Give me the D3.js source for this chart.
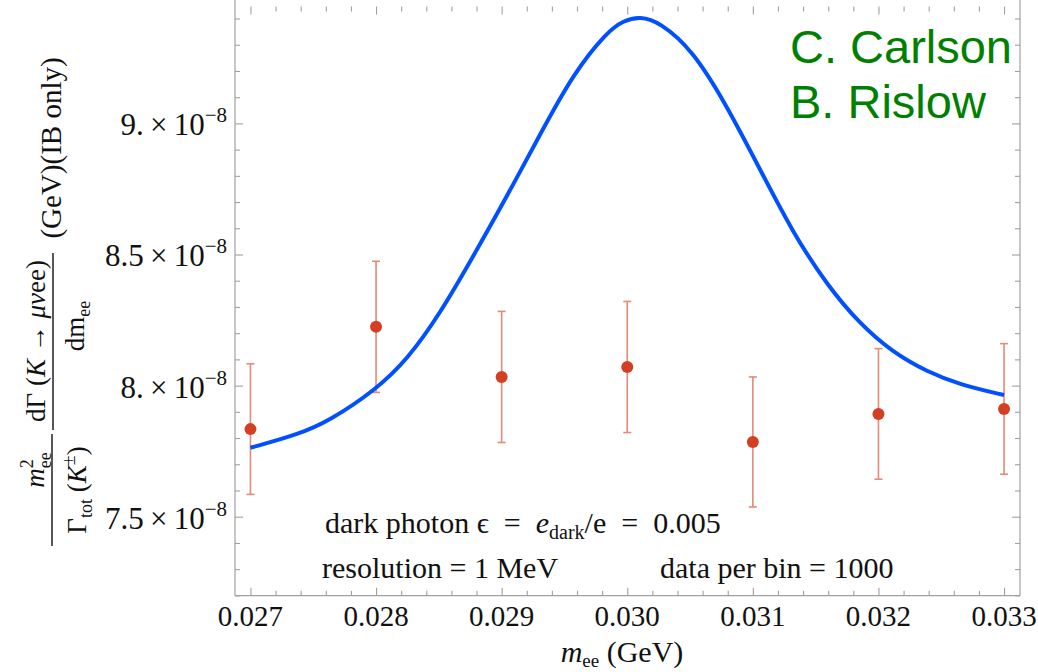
<!DOCTYPE html>
<html>
<head>
<meta charset="utf-8">
<script src="https://cdn.jsdelivr.net/npm/d3@7"></script>
<style>
  html, body { margin: 0; padding: 0; background: #fff; }
  svg { display: block; }
  .serif { font-family: "Liberation Serif", "DejaVu Serif", serif; fill: #111; }
</style>
</head>
<body>
<svg id="chart" width="1038" height="672"></svg>
<script>
// ---- data (values in units of 1e-8) ----
const dataM   = [0.027, 0.028, 0.029, 0.030, 0.031, 0.032, 0.033];
const dataV   = [7.834, 8.224, 8.033, 8.071, 7.785, 7.892, 7.911];
const dataErr = [0.249, 0.250, 0.250, 0.250, 0.248, 0.249, 0.249];

const curveM = [0.02700, 0.02737, 0.02763, 0.02800, 0.02825, 0.02851, 0.02877, 0.02904,
                0.02931, 0.02957, 0.02984, 0.02997, 0.03010, 0.03026, 0.03052, 0.03079,
                0.03106, 0.03132, 0.03159, 0.03185, 0.03211, 0.03239, 0.03265, 0.03300];
const curveV = [7.763, 7.812, 7.866, 7.985, 8.100, 8.275, 8.490, 8.720,
                8.962, 9.190, 9.350, 9.392, 9.408, 9.386, 9.280, 9.070,
                8.822, 8.582, 8.384, 8.236, 8.128, 8.052, 8.003, 7.964];

const xTicks = [0.027, 0.028, 0.029, 0.030, 0.031, 0.032, 0.033];
const xTickLabels = ["0.027", "0.028", "0.029", "0.030", "0.031", "0.032", "0.033"];
const yTicks = [7.5, 8.0, 8.5, 9.0];
const yTickMantissa = ["7.5", "8.", "8.5", "9."];
const yTickExponent = "\u22128";

const creditLines = ["C. Carlson", "B. Rislow"];

// ---- layout ----
const svg = d3.select("#chart");
const frame = { left: 235, right: 1020, top: 6.5, bottom: 595.7 };

const x = d3.scaleLinear().domain([0.026877, 0.033127]).range([frame.left, frame.right]);
const y = d3.scaleLinear().domain([7.1987, 9.4458]).range([frame.bottom, frame.top]);

const axisColor = "#a0a0a0";

// frame lines (left, right, bottom)
svg.append("line").attr("x1", frame.left).attr("x2", frame.left).attr("y1", 0).attr("y2", frame.bottom)
  .attr("stroke", axisColor).attr("stroke-width", 1.2);
svg.append("line").attr("x1", frame.right).attr("x2", frame.right).attr("y1", 0).attr("y2", frame.bottom)
  .attr("stroke", axisColor).attr("stroke-width", 1.2);
svg.append("line").attr("x1", frame.left).attr("x2", frame.right).attr("y1", frame.bottom).attr("y2", frame.bottom)
  .attr("stroke", axisColor).attr("stroke-width", 1.2);

// ticks via d3 axes
const xMinor = d3.range(0, 31).map(i => 0.027 + i * 0.0002).filter(v => !xTicks.some(t => Math.abs(t - v) < 1e-9));
const yMinor = d3.range(72, 95).map(i => i / 10).filter(v => !yTicks.some(t => Math.abs(t - v) < 1e-9));

function styleTicks(g) {
  g.select(".domain").remove();
  g.selectAll(".tick line").attr("stroke", axisColor).attr("stroke-width", 1.1);
  g.selectAll(".tick text").remove();
}

// bottom
svg.append("g").attr("transform", `translate(0,${frame.bottom})`)
  .call(d3.axisTop(x).tickValues(xTicks).tickSize(8)).call(styleTicks);
svg.append("g").attr("transform", `translate(0,${frame.bottom})`)
  .call(d3.axisTop(x).tickValues(xMinor).tickSize(5)).call(styleTicks);
// top
svg.append("g").attr("transform", `translate(0,${frame.top})`)
  .call(d3.axisBottom(x).tickValues(xTicks).tickSize(8)).call(styleTicks);
svg.append("g").attr("transform", `translate(0,${frame.top})`)
  .call(d3.axisBottom(x).tickValues(xMinor).tickSize(5)).call(styleTicks);
// left
svg.append("g").attr("transform", `translate(${frame.left},0)`)
  .call(d3.axisRight(y).tickValues(yTicks).tickSize(8)).call(styleTicks);
svg.append("g").attr("transform", `translate(${frame.left},0)`)
  .call(d3.axisRight(y).tickValues(yMinor).tickSize(5)).call(styleTicks);
// right
svg.append("g").attr("transform", `translate(${frame.right},0)`)
  .call(d3.axisLeft(y).tickValues(yTicks).tickSize(8)).call(styleTicks);
svg.append("g").attr("transform", `translate(${frame.right},0)`)
  .call(d3.axisLeft(y).tickValues(yMinor).tickSize(5)).call(styleTicks);

// x tick labels
svg.append("g").selectAll("text").data(xTicks).join("text")
  .attr("class", "serif")
  .attr("x", d => x(d)).attr("y", 626)
  .attr("text-anchor", "middle").attr("font-size", 29)
  .text((d, i) => xTickLabels[i]);

// y tick labels
const yl = svg.append("g").selectAll("text").data(yTicks).join("text")
  .attr("class", "serif")
  .attr("x", 227).attr("y", d => y(d) + 12)
  .attr("text-anchor", "end").attr("font-size", 31);
yl.append("tspan").text((d, i) => yTickMantissa[i] + "\u2009\u00D7\u200910");
yl.append("tspan").attr("font-size", 21).attr("dy", -13).text(yTickExponent);

// x axis label
const xl = svg.append("text").attr("class", "serif")
  .attr("x", 622).attr("y", 662).attr("text-anchor", "middle").attr("font-size", 30);
xl.append("tspan").attr("font-style", "italic").text("m");
xl.append("tspan").attr("font-size", 19).attr("dy", 5).text("ee");
xl.append("tspan").attr("dy", -5).text(" (GeV)");

// y axis label (rotated)
const ylab = svg.append("g").attr("transform", "rotate(-90)").attr("class", "serif");
const fs = 27;
// numerator 1: m^2_ee
const n1 = ylab.append("text").attr("x", -470).attr("y", 44).attr("text-anchor", "middle").attr("font-size", fs);
n1.append("tspan").attr("font-style", "italic").text("m");
n1.append("tspan").attr("font-size", 18).attr("dy", -11).text("2");
n1.append("tspan").attr("font-size", 18).attr("dx", -9).attr("dy", 18).text("ee");
ylab.append("line").attr("x1", -546).attr("x2", -434).attr("y1", 52).attr("y2", 52)
  .attr("stroke", "#111").attr("stroke-width", 1.4);
const d1 = ylab.append("text").attr("x", -490).attr("y", 86).attr("text-anchor", "middle").attr("font-size", fs);
d1.append("tspan").text("\u0393");
d1.append("tspan").attr("font-size", 18).attr("dy", 6).text("tot");
d1.append("tspan").attr("dy", -6).text(" (");
d1.append("tspan").attr("font-style", "italic").text("K");
d1.append("tspan").attr("font-size", 18).attr("dy", -11).text("\u00B1");
d1.append("tspan").attr("dy", 11).text(")");
// numerator 2
const n2 = ylab.append("text").attr("x", -341).attr("y", 45).attr("text-anchor", "middle").attr("font-size", fs);
n2.append("tspan").text("d\u0393 (");
n2.append("tspan").attr("font-style", "italic").text("K");
n2.append("tspan").text(" \u2192 ");
n2.append("tspan").attr("font-style", "italic").text("\u03BC\u03BD");
n2.append("tspan").text("ee)");
ylab.append("line").attr("x1", -430).attr("x2", -253).attr("y1", 53).attr("y2", 53)
  .attr("stroke", "#111").attr("stroke-width", 1.4);
const d2 = ylab.append("text").attr("x", -326).attr("y", 84).attr("text-anchor", "middle").attr("font-size", fs);
d2.append("tspan").text("dm");
d2.append("tspan").attr("font-size", 18).attr("dy", 6).text("ee");
ylab.append("text").attr("x", -148).attr("y", 61).attr("text-anchor", "middle").attr("font-size", 29)
  .text("(GeV)(IB only)");

// annotations
const a1 = svg.append("text").attr("class", "serif").attr("x", 325).attr("y", 533).attr("font-size", 30);
a1.append("tspan").text("dark photon \u03F5\u2002=\u2002");
a1.append("tspan").attr("font-style", "italic").text("e");
a1.append("tspan").attr("font-size", 20).attr("dy", 6).text("dark");
a1.append("tspan").attr("dy", -6).text("/e\u2002=\u20020.005");
svg.append("text").attr("class", "serif").attr("x", 322).attr("y", 578).attr("font-size", 30)
  .text("resolution = 1 MeV");
svg.append("text").attr("class", "serif").attr("x", 660).attr("y", 578).attr("font-size", 30)
  .text("data per bin = 1000");

// credits
svg.append("g").selectAll("text").data(creditLines).join("text")
  .attr("x", 790).attr("y", (d, i) => 63 + i * 55)
  .attr("font-family", "'Liberation Sans', Arial, sans-serif")
  .attr("font-size", 47).attr("fill", "#008000")
  .text(d => d);

// error bars
const errColor = "#e58a78";
const eb = svg.append("g");
dataM.forEach((m, i) => {
  const cx = x(m), y1 = y(dataV[i] + dataErr[i]), y2 = y(dataV[i] - dataErr[i]);
  eb.append("line").attr("x1", cx).attr("x2", cx).attr("y1", y1).attr("y2", y2)
    .attr("stroke", errColor).attr("stroke-width", 1.6);
  [y1, y2].forEach(yy => eb.append("line").attr("x1", cx - 4).attr("x2", cx + 4).attr("y1", yy).attr("y2", yy)
    .attr("stroke", errColor).attr("stroke-width", 1.6));
});

// curve
const line = d3.line().x(d => x(d[0])).y(d => y(d[1])).curve(d3.curveBasis);
svg.append("path").datum(curveM.map((m, i) => [m, curveV[i]]))
  .attr("d", line).attr("fill", "none").attr("stroke", "#0050ff").attr("stroke-width", 4)
  .attr("stroke-linejoin", "round");

// points
svg.append("g").selectAll("circle").data(dataM).join("circle")
  .attr("cx", d => x(d)).attr("cy", (d, i) => y(dataV[i])).attr("r", 6)
  .attr("fill", "#d23f22");
</script>
</body>
</html>
